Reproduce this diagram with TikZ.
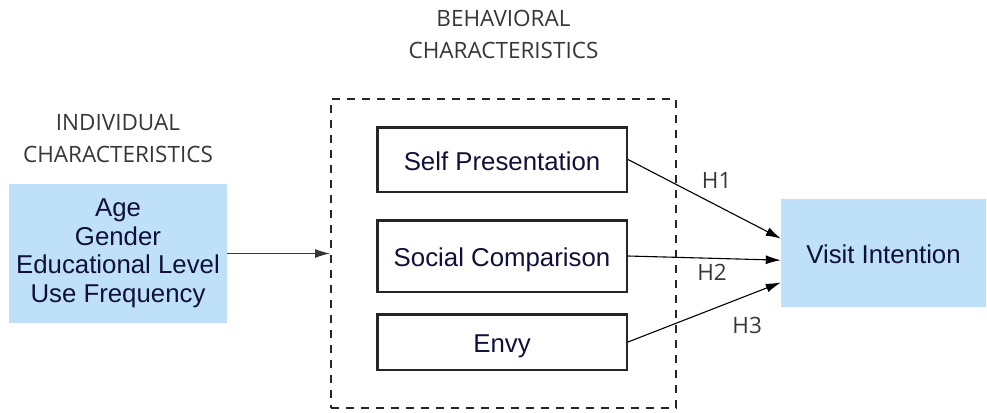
\documentclass[tikz,border=0pt]{standalone}
\usepackage{fontspec}
\setmainfont{Liberation Sans}
\newfontfamily\headfont{Open Sans}
\usetikzlibrary{arrows.meta}
\definecolor{boxblue}{RGB}{190,224,248}
\definecolor{navytext}{RGB}{16,16,58}
\definecolor{headgray}{RGB}{55,55,55}

\begin{document}
\begin{tikzpicture}[x=1pt,y=-1pt,
    bluebox/.style={fill=boxblue,inner sep=0pt,text=navytext,align=center,font=\fontsize{25.8}{28.5}\selectfont},
    itembox/.style={draw=black!85,line width=2.5pt,minimum width=249.5pt,inner sep=0pt,text height=21pt,text depth=0pt,text=navytext,font=\fontsize{25.8}{28.5}\selectfont},
    groupbox/.style={draw=black!85,line width=2pt,dash pattern=on 8pt off 7pt,minimum width=345pt,minimum height=309pt,inner sep=0pt},
    heading/.style={text=headgray,align=center,font=\headfont\fontsize{22.5}{32}\selectfont},
    hlabel/.style={text=headgray,font=\headfont\fontsize{22.5}{25}\selectfont},
    link/.style={-{Latex[length=15pt,width=9pt]},line width=1.1pt}]
    \useasboundingbox (0,0) rectangle (987,412);
    % Define nodes
    \node[heading] (behavhead) at (503.5,34.5) {BEHAVIORAL\\CHARACTERISTICS};
    \node[heading] (indivhead) at (118,138.5) {INDIVIDUAL\\CHARACTERISTICS};
    \node[bluebox,minimum width=218pt,minimum height=139pt] (indiv) at (118,253.5) {Age\\Gender\\Educational Level\\Use Frequency};
    \node[groupbox] (group) at (503.5,253.5) {};
    \node[itembox,minimum height=64.5pt] (self) at (502,159.5) {Self Presentation};
    \node[itembox,minimum height=71.5pt] (social) at (502,256) {Social Comparison};
    \node[itembox,minimum height=55.5pt] (envy) at (502,342) {Envy};
    \node[bluebox,minimum width=205pt,minimum height=108pt,text height=21pt,text depth=0pt] (visit) at (883.5,253) {Visit Intention};
    % Draw edges
    \draw[link,draw=headgray] (indiv.east) -- (group.west);
    \draw[link] (self.east) -- node[hlabel,pos=0.58,yshift=25pt] {H1} (visit.172);
    \draw[link] (social.east) -- node[hlabel,pos=0.55,yshift=-14pt] {H2} (visit.184);
    \draw[link] (envy.east) -- node[hlabel,pos=0.78,yshift=-30pt] {H3} (visit.196);

\end{tikzpicture}
\end{document}
